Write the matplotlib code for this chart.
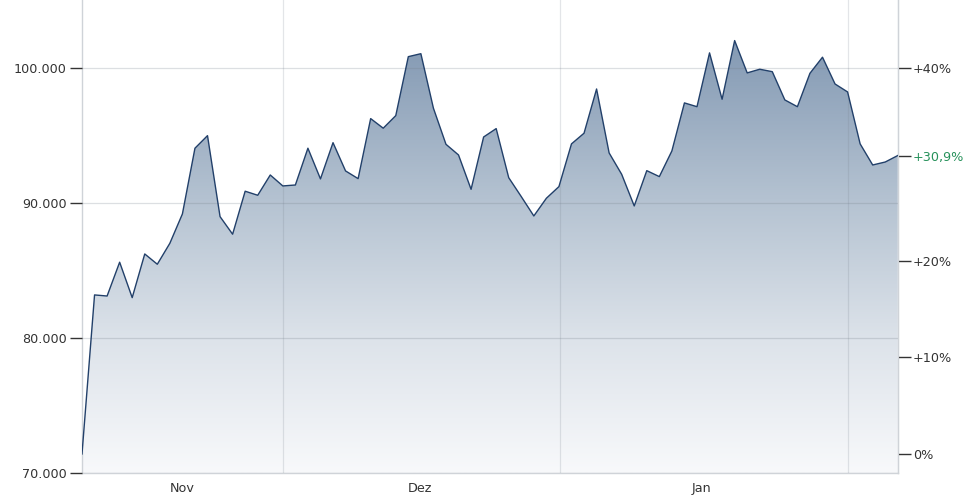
import numpy as np
import matplotlib
matplotlib.use("Agg")
import matplotlib.pyplot as plt
from matplotlib.colors import LinearSegmentedColormap
from matplotlib.patches import Polygon

# ---- data ----
values = [71430, 83190, 83110, 85610, 82990, 86220, 85460, 87010, 89180, 94040,
          94970, 88980, 87680, 90860, 90560, 92060, 91250, 91320, 94040, 91770,
          94450, 92360, 91790, 96230, 95520, 96450, 100810, 101030, 97000, 94330,
          93540, 91000, 94870, 95490, 91860, 90460, 89030, 90340, 91200, 94360,
          95150, 98420, 93690, 92110, 89770, 92380, 91940, 93840, 97390, 97110,
          101090, 97660, 102000, 99610, 99880, 99700, 97610, 97110, 99580, 100770,
          98790, 98200, 94360, 92800, 93020, 93500]
month_labels = ["Nov", "Dez", "Jan"]
month_pos = [8, 26.9, 49.4]
grid_pos = [16, 38.1, 61]
left_ticks = [70000, 80000, 90000, 100000]
pct_ticks = [0, 10, 20, 40]

x = np.arange(len(values))
base = values[0]
last_pct = (values[-1] / base - 1) * 100

fig = plt.figure(figsize=(9.8, 5), dpi=100)
ax = fig.add_axes([82/980, 1 - 473.3/500, (897.8-82)/980, 473.3/500])
ymin, ymax = 70000, 105000
ax.set_xlim(0, len(values) - 1)
ax.set_ylim(ymin, ymax)

# gradient fill under the line
cmap = LinearSegmentedColormap.from_list(
    "g", [(0.0, "#f8f9fb"), (0.28, "#dde3ea"), (0.58, "#b4c2d1"),
          (0.915, "#8399b3"), (1.0, "#7d94ae")])
grad = np.linspace(0, 1, 512).reshape(-1, 1)
im = ax.imshow(grad, aspect="auto", cmap=cmap, origin="lower",
               extent=[0, len(values) - 1, ymin, ymax], zorder=1,
               interpolation="bilinear")
poly = Polygon(np.column_stack([np.r_[x, x[-1], x[0]], np.r_[values, ymin, ymin]]),
               closed=True, transform=ax.transData, facecolor="none", edgecolor="none")
ax.add_patch(poly)
im.set_clip_path(poly)
ax.plot(x, values, color="#22406a", lw=1.0, zorder=3)

gridc = "#76808c"
# grid
ax.set_yticks(left_ticks)
ax.set_yticklabels([f"{v:,.0f}".replace(",", ".") for v in left_ticks])
ax.grid(axis="y", color=gridc, alpha=0.25, lw=0.9, zorder=2)
ax.set_xticks(month_pos)
ax.set_xticklabels(month_labels)
ax.set_xticks(grid_pos, minor=True)
ax.grid(axis="x", which="minor", color=gridc, alpha=0.2, lw=0.9, zorder=2)
ax.tick_params(axis="x", which="both", length=0, pad=6, labelsize=9.2, labelcolor="#333333")
ax.tick_params(axis="y", length=9, width=1, color="#333333", pad=2, labelsize=9.2, labelcolor="#333333")
ax.set_axisbelow(False)

ax.spines["top"].set_visible(False)
for s in ["left", "right", "bottom"]:
    ax.spines[s].set_color("#cfd3d8")
    ax.spines[s].set_linewidth(1)

# right percentage axis
ax2 = ax.twinx()
ax2.set_ylim(ymin, ymax)
rt = [base * (1 + p / 100) for p in pct_ticks] + [values[-1]]
rl = [("+" if p > 0 else "") + f"{p}%" for p in pct_ticks] + [f"+{last_pct:.1f}%".replace(".", ",")]
ax2.set_yticks(rt)
ax2.set_yticklabels(rl)
ax2.tick_params(axis="y", length=9, width=1, color="#333333", pad=2, labelsize=9.2, labelcolor="#333333")
ax2.get_yticklabels()[-1].set_color("#26915a")
for s in ["top", "left", "bottom"]:
    ax2.spines[s].set_visible(False)
ax2.spines["right"].set_color("#cfd3d8")

fig.savefig("out.png", dpi=100)
